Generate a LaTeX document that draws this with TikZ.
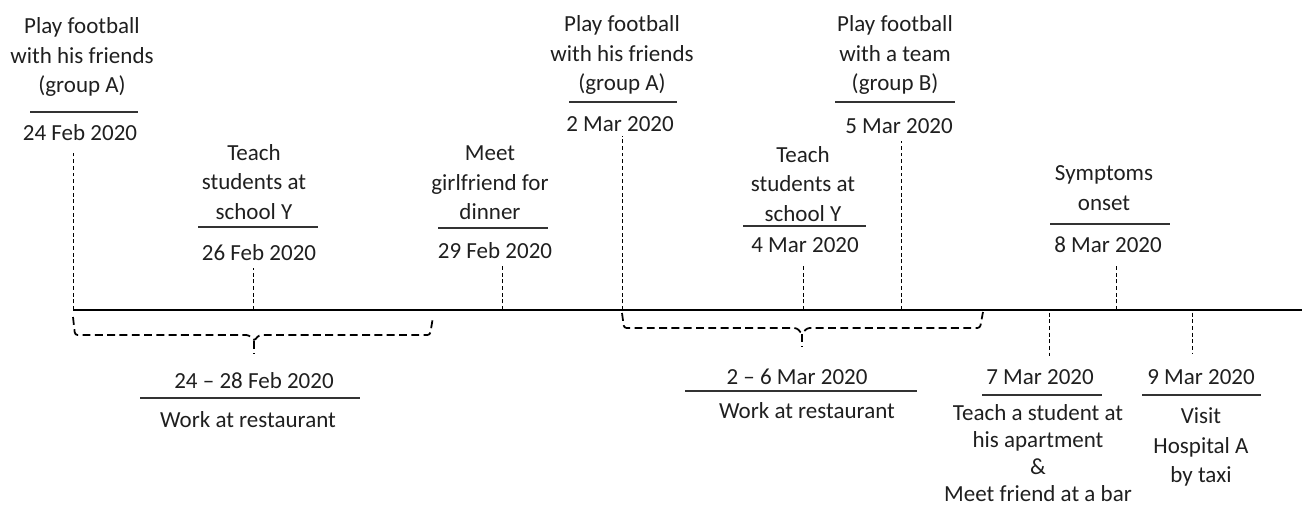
\documentclass[tikz,border=0pt]{standalone}
\usepackage{fontspec}
\setmainfont{Carlito}
\usetikzlibrary{positioning}
\tikzstyle{event} = [align=center, inner sep=0pt, text=black!88,
    font=\fontsize{13.1}{16.8}\selectfont]
\tikzstyle{rule} = [draw, line width=0.6pt, black!80]
\tikzstyle{tick} = [draw, line width=0.5pt, dash pattern=on 2.2pt off 1.6pt]
\tikzstyle{span} = [draw, line width=1pt, dash pattern=on 4.5pt off 2.5pt, rounded corners=1.5pt]
\tikzstyle{axis} = [draw, line width=0.9pt]

\begin{document}
\begin{tikzpicture}[x=0.02cm, y=-0.02cm]
    \useasboundingbox (0,0) rectangle (1302,508);
    % points on the time axis
    \coordinate (t24) at (73,310);
    \coordinate (t26) at (253,310);
    \coordinate (t29) at (502,310);
    \coordinate (t02) at (622,310);
    \coordinate (t04) at (803,310);
    \coordinate (t05) at (901,310);
    \coordinate (t07) at (1049,310);
    \coordinate (t08) at (1116,310);
    \coordinate (t09) at (1192,310);
    \coordinate (tend) at (1302,310);
    % Place nodes above the axis
    \node [event] (e24) at (82,57) {Play football\\with his friends\\(group A)};
    \node [event] (d24) at (80,133) {24 Feb 2020};
    \node [event] (e26) at (254,182) {Teach\\students at\\school Y};
    \node [event] (d26) at (259,253) {26 Feb 2020};
    \node [event] (e29) at (490,183) {Meet\\girlfriend for\\dinner};
    \node [event] (d29) at (495,251) {29 Feb 2020};
    \node [event] (e02) at (622,55) {Play football\\with his friends\\(group A)};
    \node [event] (d02) at (620,124) {2 Mar 2020};
    \node [event] (e04) at (803,184) {Teach\\students at\\school Y};
    \node [event] (d04) at (805,245) {4 Mar 2020};
    \node [event] (e05) at (895,55) {Play football\\with a team\\(group B)};
    \node [event] (d05) at (899,126) {5 Mar 2020};
    \node [event] (e08) at (1104,188) {Symptoms\\onset};
    \node [event] (d08) at (1108,245) {8 Mar 2020};
    % Place nodes below the axis
    \node [event] (r1) at (254,381) {24 – 28 Feb 2020};
    \node [event] (w1) at (248,420) {Work at restaurant};
    \node [event] (r2) at (797,377) {2 – 6 Mar 2020};
    \node [event] (w2) at (807,411) {Work at restaurant};
    \node [event] (d07) at (1040,377) {7 Mar 2020};
    \node [event, font=\fontsize{13.1}{15.3}\selectfont] (e07) at (1038,453)
        {Teach a student at\\his apartment\\\&\\Meet friend at a bar};
    \node [event] (d09) at (1201,377) {9 Mar 2020};
    \node [event] (e09) at (1201,447) {Visit\\Hospital A\\by taxi};
    % rules between text and date
    \path [rule] (30,112) -- (138,112);
    \path [rule] (198,227) -- (318,227);
    \path [rule] (438,228) -- (548,228);
    \path [rule] (569,102) -- (677,102);
    \path [rule] (743,226) -- (866,226);
    \path [rule] (835,102) -- (955,102);
    \path [rule] (1050,224) -- (1170,224);
    \path [rule] (140,398) -- (360,398);
    \path [rule] (685,391) -- (917,391);
    \path [rule] (982,395) -- (1102,395);
    \path [rule] (1142,395) -- (1261,395);
    % Draw edges
    \path [axis] (t24) -- (tend);
    \path [tick, shorten >=5.7pt] (t24) -- (t24 |- d24.south);
    \path [tick, shorten >=4pt] (t26) -- (t26 |- d26.south);
    \path [tick, shorten >=4pt] (t29) -- (t29 |- d29.south);
    \path [tick, shorten >=2.3pt] (t02) -- (t02 |- d02.south);
    \path [tick, shorten >=7.4pt] (t04) -- (t04 |- d04.south);
    \path [tick, shorten >=4pt] (t05) -- (t05 |- d05.south);
    \path [tick, shorten >=6.3pt] (t08) -- (t08 |- d08.south);
    \path [tick, shorten <=1.5pt, shorten >=7.4pt] (t07) -- (t07 |- d07.north);
    \path [tick, shorten <=1.5pt, shorten >=8.5pt] (t09) -- (t09 |- d09.north);
    % the two brackets
    \coordinate (b1) at (254,341);
    \coordinate (b2) at (802,334);
    \path [span] (t24) ++(0,7) -- (75,335) -- (249,335) -- (b1) -- (259,335) -- (430,335) -- (433,317);
    \path [span] (b1) -- ++(0,13);
    \path [span] (t02) ++(0,3) -- (624,328) -- (797,328) -- (b2) -- (807,328) -- (980,328) -- (983,312);
    \path [span] (b2) -- ++(0,13);
\end{tikzpicture}
\end{document}
